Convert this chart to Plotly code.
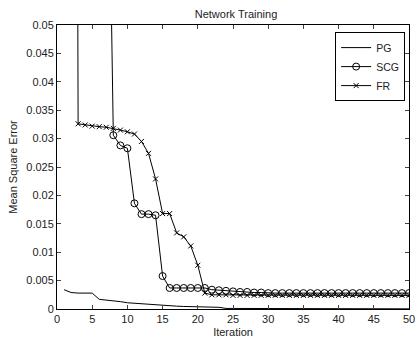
import plotly.graph_objects as go

iterations = list(range(1, 51))

pg_values = [0.0034, 0.0029, 0.0028, 0.0028, 0.0028, 0.0017, 0.0016, 0.0015, 0.0013, 0.0011,
             0.0010, 0.0009, 0.0008, 0.0007, 0.0006, 0.00055, 0.0005, 0.00045, 0.0004, 0.0004,
             0.00035, 0.0003, 0.0003, 0.0001, 0.0001, 0.00009, 0.00008, 0.00008, 0.00007, 0.00007,
             0.00006, 0.00006, 0.00006, 0.00005, 0.00005, 0.00005, 0.00005, 0.00005, 0.00004, 0.00004,
             0.00004, 0.00004, 0.00004, 0.00004, 0.00004, 0.00003, 0.00003, 0.00003, 0.00003, 0.00003]

scg_values = [0.5, 0.4, 0.3, 0.22, 0.17, 0.13, 0.11, 0.0306, 0.0288, 0.0283,
              0.0186, 0.0167, 0.0167, 0.0165, 0.0058, 0.0037, 0.0037, 0.0037, 0.0037, 0.0037,
              0.0037, 0.0034, 0.0033, 0.0032, 0.0031, 0.0030, 0.0030, 0.0029, 0.0029, 0.0028,
              0.0028, 0.0028, 0.0028, 0.0028, 0.0028, 0.0028, 0.0028, 0.0028, 0.0028, 0.0028,
              0.0028, 0.0028, 0.0028, 0.0028, 0.0028, 0.0028, 0.0028, 0.0028, 0.0028, 0.0028]

fr_values = [0.6, 0.45, 0.0326, 0.0324, 0.0322, 0.0321, 0.0320, 0.0318, 0.0315, 0.0312,
             0.0308, 0.0295, 0.0274, 0.0229, 0.0168, 0.0168, 0.0134, 0.0127, 0.0111, 0.0077,
             0.0028, 0.0025, 0.0025, 0.0025, 0.0024, 0.0024, 0.0024, 0.0024, 0.0024, 0.0024,
             0.0024, 0.0024, 0.0024, 0.0024, 0.0024, 0.0024, 0.0024, 0.0024, 0.0024, 0.0024,
             0.0024, 0.0024, 0.0024, 0.0024, 0.0024, 0.0024, 0.0024, 0.0024, 0.0024, 0.0024]

x_ticks = [0, 5, 10, 15, 20, 25, 30, 35, 40, 45, 50]
y_ticks = [0, 0.005, 0.01, 0.015, 0.02, 0.025, 0.03, 0.035, 0.04, 0.045, 0.05]
y_tick_labels = ["0", "0.005", "0.01", "0.015", "0.02", "0.025", "0.03", "0.035", "0.04", "0.045", "0.05"]

FONT = "Liberation Sans, Arial, sans-serif"

fig = go.Figure()
fig.add_trace(go.Scatter(x=iterations, y=pg_values, mode="lines", name="PG",
                         line=dict(color="black", width=1)))
fig.add_trace(go.Scatter(x=iterations, y=scg_values, mode="lines+markers", name="SCG",
                         line=dict(color="black", width=1),
                         marker=dict(symbol="circle-open", size=7, color="black",
                                     line=dict(width=1, color="black"))))
fig.add_trace(go.Scatter(x=iterations, y=fr_values, mode="lines+markers", name="FR",
                         line=dict(color="black", width=1),
                         marker=dict(symbol="x-thin-open", size=5, color="black",
                                     line=dict(width=1, color="black"))))

fig.update_layout(
    width=418, height=340,
    margin=dict(l=57, r=3, t=25, b=31),
    paper_bgcolor="white", plot_bgcolor="white",
    font=dict(family=FONT, size=11, color="#222"),
    title=dict(text="Network Training", x=(57 + 415) / 2 / 418, xanchor="center",
               y=1 - 14 / 340, yanchor="middle", yref="container",
               font=dict(size=11, color="#222")),
    showlegend=True,
    legend=dict(x=0.989, y=0.975, xanchor="right", yanchor="top",
                bgcolor="white", bordercolor="black", borderwidth=1,
                font=dict(size=10.5, color="#222"), tracegroupgap=0,
                itemwidth=30),
    xaxis=dict(range=[0, 50], tickvals=x_ticks, ticks="inside", ticklen=4,
               ticklabeloverflow="allow",
               showline=True, linecolor="black", linewidth=1, mirror="ticks",
               showgrid=False, zeroline=False,
               title=dict(text="Iteration", font=dict(size=11), standoff=4)),
    yaxis=dict(range=[0, 0.05], tickvals=y_ticks, ticktext=y_tick_labels,
               ticks="inside", ticklen=4,
               showline=True, linecolor="black", linewidth=1, mirror="ticks",
               showgrid=False, zeroline=False,
               title=dict(text="Mean Square Error", font=dict(size=11), standoff=6)),
)

fig.write_html("out.html")
